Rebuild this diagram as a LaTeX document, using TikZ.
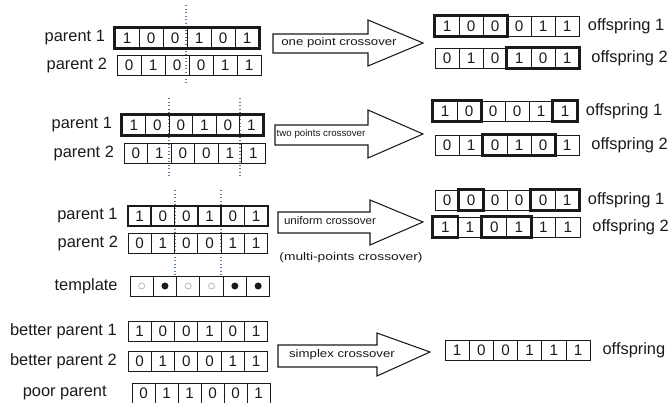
\documentclass[tikz,border=0pt]{standalone}
\usepackage{fontspec}
\setmainfont{Liberation Sans}
\usepackage{tikz}
\usetikzlibrary{positioning}
\definecolor{ink}{HTML}{1A1A1A}
\definecolor{cutline}{HTML}{5A7AA0}
\newcommand\lblfont{\fontsize{14}{16}\selectfont}
\newcommand\bitfont{\fontsize{13}{14}\selectfont}
\newcommand\arrfont{\fontsize{9.4}{11}\selectfont}

\tikzset{
  bit/.style={draw=ink, line width=0.8pt, inner sep=0pt, minimum height=0.6cm,
    minimum width=#1*0.03cm, font=\bitfont, text=ink},
  lbl/.style={font=\lblfont, text=ink, inner sep=1pt},
  frame/.style={draw=ink, line width=1.8pt},
  cut/.style={draw=cutline, dotted, line width=1pt},
  blockarrow/.style={draw=ink, line width=0.9pt, fill=white, line join=miter},
  arrtext/.style={font=\arrfont, text=ink, inner sep=1pt},
}

\begin{document}
\begin{tikzpicture}[x=0.03cm, y=-0.03cm]
\useasboundingbox (0,0) rectangle (670,403);

% one point crossover
\draw[cut] (186,5) -- (186,85);
\foreach \b [count=\i] in {1,0,0,1,0,1}
  \node[bit=24] (a1-\i) at ({115+(\i-0.5)*24}, 38) {\b};
\foreach \b [count=\i] in {0,1,0,0,1,1}
  \node[bit=24] (a2-\i) at ({117+(\i-0.5)*24}, 65) {\b};
\draw[frame] (a1-1.north west) rectangle (a1-6.south east);
\node[lbl, left=7pt of a1-1] (la1) {parent 1};
\node[lbl, left=7pt of a2-1] (la2) {parent 2};

\draw[blockarrow] (273,34) -- (368,34) -- (368,20) -- (423,43) -- (368,66) -- (368,53) -- (273,53) -- cycle;
\node[arrtext] (ta) at (339,43) {\scalebox{1.2}[1]{one point crossover}};

\foreach \b [count=\i] in {1,0,0,0,1,1}
  \node[bit=24] (ao1-\i) at ({435+(\i-0.5)*24}, 26) {\b};
\foreach \b [count=\i] in {0,1,0,1,0,1}
  \node[bit=24] (ao2-\i) at ({435+(\i-0.5)*24}, 58) {\b};
\draw[frame] (ao1-1.north west) rectangle (ao1-3.south east);
\draw[frame] (ao2-4.north west) rectangle (ao2-6.south east);
\node[lbl, right=6pt of ao1-6] (lao1) {offspring 1};
\node[lbl, right=9pt of ao2-6] (lao2) {offspring 2};

% two points crossover
\draw[cut] (169,98) -- (169,178);
\draw[cut] (240,98) -- (240,178);
\foreach \b [count=\i] in {1,0,0,1,0,1}
  \node[bit=23.5] (b1-\i) at ({122+(\i-0.5)*23.5}, 125) {\b};
\foreach \b [count=\i] in {0,1,0,0,1,1}
  \node[bit=23.5] (b2-\i) at ({124+(\i-0.5)*23.5}, 153) {\b};
\draw[frame] (b1-1.north west) rectangle (b1-6.south east);
\node[lbl, left=7pt of b1-1] (lb1) {parent 1};
\node[lbl, left=7pt of b2-1] (lb2) {parent 2};

\draw[blockarrow] (275,125) -- (368,125) -- (368,110) -- (423,134) -- (368,158) -- (368,145) -- (275,145) -- cycle;
\node[arrtext] (tb) at (321,134) {\fontsize{8.3}{10}\selectfont two points crossover};

\foreach \b [count=\i] in {1,0,0,0,1,1}
  \node[bit=24] (bo1-\i) at ({433+(\i-0.5)*24}, 111) {\b};
\foreach \b [count=\i] in {0,1,0,1,0,1}
  \node[bit=24] (bo2-\i) at ({435+(\i-0.5)*24}, 145) {\b};
\draw[frame] (bo1-1.north west) rectangle (bo1-2.south east);
\draw[frame] (bo1-6.north west) rectangle (bo1-6.south east);
\draw[frame] (bo2-3.north west) rectangle (bo2-5.south east);
\node[lbl, right=6pt of bo1-6] (lbo1) {offspring 1};
\node[lbl, right=9pt of bo2-6] (lbo2) {offspring 2};

% uniform crossover
\draw[cut] (175,190) -- (175,275);
\draw[cut] (221,190) -- (221,275);
\foreach \b [count=\i] in {1,0,0,1,0,1}
  \node[bit=23.3, line width=1.5pt] (c1-\i) at ({128+(\i-0.5)*23.3}, 216) {\b};
\foreach \b [count=\i] in {0,1,0,0,1,1}
  \node[bit=23.3] (c2-\i) at ({128+(\i-0.5)*23.3}, 243) {\b};
\foreach \i in {1,...,6}
  \node[bit=23.3] (tp-\i) at ({130+(\i-0.5)*23.3}, 286) {};
\foreach \i in {2,5,6}
  \fill[ink] (tp-\i) circle (3pt);
\foreach \i in {1,3,4}
  \draw[gray!55, line width=0.7pt] (tp-\i) circle (2.6pt);
\node[lbl, left=7pt of c1-1] (lc1) {parent 1};
\node[lbl, left=7pt of c2-1] (lc2) {parent 2};
\node[lbl, left=9pt of tp-1] (ltp) {template};

\draw[blockarrow] (278,212) -- (370,212) -- (370,200) -- (423,222) -- (370,245) -- (370,233) -- (278,233) -- cycle;
\node[arrtext] (tc) at (330,221) {\scalebox{1.05}[1]{uniform crossover}};
\node[arrtext] (tc2) at (351,258) {\scalebox{1.25}[1]{(multi-points crossover)}};

\foreach \b [count=\i] in {0,0,0,0,0,1}
  \node[bit=24] (co1-\i) at ({435+(\i-0.5)*24}, 200) {\b};
\foreach \b [count=\i] in {1,1,0,1,1,1}
  \node[bit=24.5] (co2-\i) at ({433+(\i-0.5)*24.5}, 227) {\b};
\draw[frame] (co1-2.north west) rectangle (co1-2.south east);
\draw[frame] (co1-5.north west) rectangle (co1-6.south east);
\draw[frame] (co2-1.north west) rectangle (co2-1.south east);
\draw[frame] (co2-3.north west) rectangle (co2-4.south east);
\node[lbl, right=6pt of co1-6] (lco1) {offspring 1};
\node[lbl, right=9pt of co2-6] (lco2) {offspring 2};

% simplex crossover
\foreach \b [count=\i] in {1,0,0,1,0,1}
  \node[bit=23.3] (d1-\i) at ({128+(\i-0.5)*23.3}, 331) {\b};
\foreach \b [count=\i] in {0,1,0,0,1,1}
  \node[bit=23.3] (d2-\i) at ({128+(\i-0.5)*23.3}, 361) {\b};
\foreach \b [count=\i] in {0,1,1,0,0,1}
  \node[bit=23] (d3-\i) at ({132+(\i-0.5)*23}, 393) {\b};
\node[lbl, left=8pt of d1-1] (ld1) {better parent 1};
\node[lbl, left=8pt of d2-1] (ld2) {better parent 2};
\node[lbl, left=20pt of d3-1] (ld3) {poor parent};

\draw[blockarrow] (278,345) -- (377,345) -- (377,333) -- (430,352) -- (377,376) -- (377,367) -- (278,367) -- cycle;
\node[arrtext] (td) at (342,355) {\scalebox{1.2}[1]{simplex crossover}};

\foreach \b [count=\i] in {1,0,0,1,1,1}
  \node[bit=24.2] (do-\i) at ({445+(\i-0.5)*24.2}, 350) {\b};
\node[lbl, right=9pt of do-6] (ldo) {offspring};
\end{tikzpicture}
\end{document}
